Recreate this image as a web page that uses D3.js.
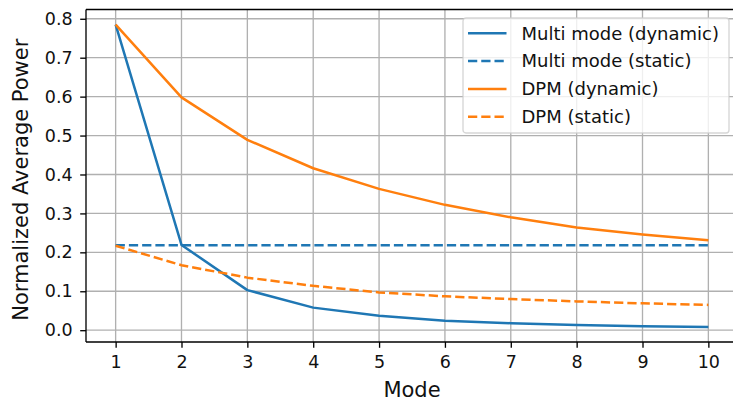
<!DOCTYPE html>
<html>
<head>
<meta charset="utf-8">
<script src="https://cdn.jsdelivr.net/npm/d3@7"></script>
<style>
  body { margin: 0; background: #fff; }
  svg { display: block; font-family: "DejaVu Sans", sans-serif; }
  .grid line { stroke: #b0b0b0; stroke-width: 1.33; }
  .axis path, .axis line { stroke: #000; stroke-width: 1.33; }
  .axis text { font-family: "DejaVu Sans", sans-serif; font-size: 17.5px; fill: #111; }
</style>
</head>
<body>
<svg id="chart"></svg>
<script>
// values
const modes = [1, 2, 3, 4, 5, 6, 7, 8, 9, 10];
const multiDynamic = [0.785, 0.219, 0.103, 0.058, 0.037, 0.024, 0.018, 0.0136, 0.0103, 0.0085];
const multiStatic = [0.2185, 0.2185, 0.2185, 0.2185, 0.2185, 0.2185, 0.2185, 0.2185, 0.2185, 0.2185];
const dpmDynamic = [0.785, 0.598, 0.489, 0.416, 0.363, 0.322, 0.290, 0.264, 0.246, 0.231];
const dpmStatic = [0.217, 0.167, 0.135, 0.114, 0.097, 0.087, 0.080, 0.074, 0.069, 0.065];
const yTicks = [0.0, 0.1, 0.2, 0.3, 0.4, 0.5, 0.6, 0.7, 0.8];

const series = [
    { name: 'Multi mode (dynamic)', values: multiDynamic, color: '#1f77b4', dash: null },
    { name: 'Multi mode (static)', values: multiStatic, color: '#1f77b4', dash: '9.25,4' },
    { name: 'DPM (dynamic)', values: dpmDynamic, color: '#ff7f0e', dash: null },
    { name: 'DPM (static)', values: dpmStatic, color: '#ff7f0e', dash: '9.25,4' },
];

const width = 733, height = 405;
// plot box runs a little past the right edge of the picture (cropped figure)
const margin = { top: 9.5, right: -5, bottom: 63, left: 86 };
const w = width - margin.left - margin.right;
const h = height - margin.top - margin.bottom;

const svg = d3.select('#chart').attr('width', width).attr('height', height);
const chart = svg.append('g').attr('transform', `translate(${margin.left},${margin.top})`);

// matplotlib style 5% padding
const xScale = d3.scaleLinear().domain([0.55, 10.45]).range([0, w]);
const allVals = series.flatMap(s => s.values);
const [lo, hi] = d3.extent(allVals);
const pad = (hi - lo) * 0.05;
const yScale = d3.scaleLinear().domain([lo - pad, hi + pad]).range([h, 0]);

chart.append('defs').append('clipPath').attr('id', 'clip')
    .append('rect').attr('width', w).attr('height', h);

// grid
const grid = chart.append('g').attr('class', 'grid');
grid.selectAll('.vx').data(modes).join('line')
    .attr('x1', d => xScale(d)).attr('x2', d => xScale(d))
    .attr('y1', 0).attr('y2', h);
grid.selectAll('.hy').data(yTicks).join('line')
    .attr('x1', 0).attr('x2', w)
    .attr('y1', d => yScale(d)).attr('y2', d => yScale(d));

// lines
const line = d3.line()
    .x((d, i) => xScale(modes[i]))
    .y(d => yScale(d));

chart.append('g').attr('clip-path', 'url(#clip)')
    .selectAll('path').data(series).join('path')
    .attr('fill', 'none')
    .attr('stroke', d => d.color)
    .attr('stroke-width', 2.5)
    .attr('stroke-dasharray', d => d.dash)
    .attr('stroke-linejoin', 'round')
    .attr('d', d => line(d.values));

// axes
const xAxis = d3.axisBottom(xScale).tickValues(modes).tickSize(5.8).tickPadding(7.5).tickSizeOuter(0);
const yAxis = d3.axisLeft(yScale).tickValues(yTicks).tickSize(5.8).tickPadding(7.5).tickSizeOuter(0)
    .tickFormat(d3.format('.1f'));

chart.append('g').attr('class', 'axis').attr('transform', `translate(0,${h})`).call(xAxis)
    .call(g => g.select('.domain').attr('d', `M0,0H${w}`));
chart.append('g').attr('class', 'axis').call(yAxis)
    .call(g => g.select('.domain').attr('d', `M0,0V${h}`));
chart.selectAll('.axis').attr('font-family', null).attr('font-size', null);

// top spine
chart.append('line').attr('x1', 0).attr('x2', w).attr('y1', 0).attr('y2', 0)
    .attr('stroke', '#000').attr('stroke-width', 1.33);

// axis labels
svg.append('text')
    .attr('x', margin.left + w / 2)
    .attr('y', 397)
    .attr('text-anchor', 'middle')
    .style('font-size', '21px')
    .attr('fill', '#111')
    .text('Mode');

svg.append('text')
    .attr('transform', `translate(28,${margin.top + h / 2 + 4}) rotate(-90)`)
    .attr('text-anchor', 'middle')
    .style('font-size', '21px')
    .attr('fill', '#111')
    .text('Normalized Average Power');

// legend
const legend = chart.append('g').attr('transform', `translate(${463 - margin.left},${18 - margin.top})`);
legend.append('rect')
    .attr('width', 266).attr('height', 115)
    .attr('rx', 3)
    .attr('fill', '#fff').attr('fill-opacity', 0.8)
    .attr('stroke', '#cccccc').attr('stroke-opacity', 0.8).attr('stroke-width', 1.33);

const items = legend.selectAll('.item').data(series).join('g')
    .attr('class', 'item')
    .attr('transform', (d, i) => `translate(0,${15.3 + i * 27.8})`);
items.append('line')
    .attr('x1', 5).attr('x2', 43.5)
    .attr('stroke', d => d.color)
    .attr('stroke-width', 2.5)
    .attr('stroke-dasharray', d => d.dash);
items.append('text')
    .attr('x', 58.5)
    .attr('dy', '0.35em')
    .style('font-size', '18px')
    .attr('fill', '#111')
    .text(d => d.name);
</script>
</body>
</html>
